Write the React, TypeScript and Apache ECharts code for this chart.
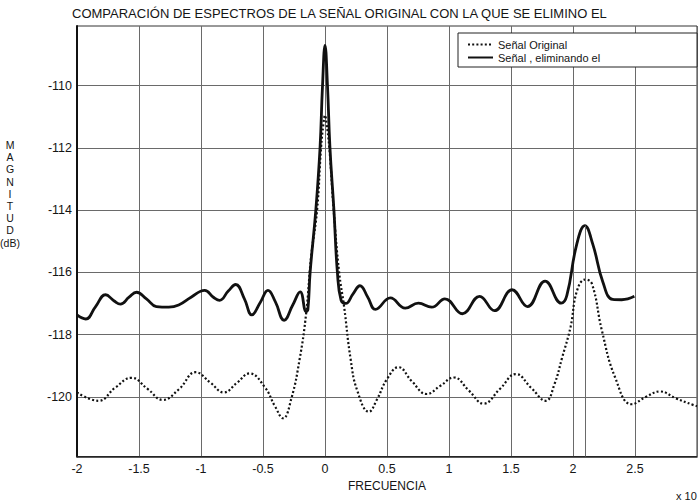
import React, { useEffect, useRef } from "react";
import * as echarts from "echarts";

// Spectrum of the original signal (dotted trace)
const originalFreq = [
  -2.0, -1.827, -1.69, -1.561, -1.43, -1.309, -1.176, -1.043, -0.923, -0.816,
  -0.71, -0.609, -0.484, -0.404, -0.338, -0.271, -0.205, -0.152, -0.112, -0.064,
  -0.032, -0.012, 0.0, 0.012, 0.035, 0.07, 0.114, 0.154, 0.207, 0.26,
  0.354, 0.42, 0.5, 0.593, 0.7, 0.82, 0.93, 1.039, 1.16, 1.279,
  1.41, 1.54, 1.66, 1.78, 1.85, 1.913, 1.98, 2.033, 2.1, 2.153,
  2.233, 2.34, 2.473, 2.59, 2.7, 2.83, 2.967, 3.0,
];
const originalMag = [
  -119.86, -120.13, -119.7, -119.39, -119.75, -120.1, -119.75, -119.21, -119.55, -119.86,
  -119.55, -119.25, -119.7, -120.3, -120.69, -120.05, -118.8, -117.32, -115.5, -114.0,
  -112.0, -111.2, -110.95, -111.2, -112.0, -114.0, -116.0, -117.1, -118.8, -119.8,
  -120.48, -120.08, -119.43, -119.05, -119.5, -119.91, -119.65, -119.38, -119.8, -120.22,
  -119.75, -119.27, -119.7, -120.13, -119.6, -118.73, -117.76, -116.58, -116.23, -116.37,
  -117.87, -119.38, -120.24, -120.0, -119.83, -120.05, -120.26, -120.3,
];

// Spectrum after removing the component (solid trace)
const filteredFreq = [
  -2.0, -1.93, -1.85, -1.77, -1.7, -1.65, -1.58, -1.52, -1.44, -1.36,
  -1.26, -1.18, -1.08, -0.97, -0.9, -0.85, -0.78, -0.72, -0.65, -0.59,
  -0.52, -0.46, -0.4, -0.33, -0.26, -0.2, -0.152, -0.138, -0.12, -0.074,
  -0.04, -0.02, 0.0, 0.02, 0.04, 0.072, 0.1, 0.13, 0.168, 0.225,
  0.282, 0.345, 0.407, 0.527, 0.647, 0.753, 0.86, 0.967, 1.108, 1.247,
  1.367, 1.508, 1.633, 1.775, 1.905, 1.95, 2.03, 2.095, 2.16, 2.24, 2.32, 2.393, 2.495,
];
const filteredMag = [
  -117.37, -117.5, -117.1, -116.72, -116.92, -117.02, -116.8, -116.64, -116.85, -117.1,
  -117.12, -117.05, -116.8, -116.58, -116.8, -116.9, -116.6, -116.39, -116.85, -117.37,
  -116.95, -116.58, -116.95, -117.54, -117.05, -116.63, -117.26, -117.2, -116.0, -114.0,
  -112.0, -110.0, -108.7, -110.0, -112.0, -114.0, -116.0, -116.9, -117.0, -116.7,
  -116.43, -116.8, -117.19, -116.82, -117.15, -116.99, -117.12, -116.85, -117.33, -116.77,
  -117.23, -116.56, -117.1, -116.28, -116.99, -116.75, -115.1, -114.5, -115.1, -116.3, -116.87, -116.88, -116.77,
];

const yTicks = [-120, -118, -116, -114, -112, -110];
const xTicks = [-2, -1.5, -1, -0.5, 0, 0.5, 1, 1.5, 2, 2.5, 3];
const markerFreq = 2.1;

const TITLE = "COMPARACIÓN DE ESPECTROS DE LA SEÑAL ORIGINAL CON LA QUE SE ELIMINO EL";
const LEGEND_ORIGINAL = "Señal Original";
const LEGEND_FILTERED = "Señal , eliminando el";
const Y_NAME = ["M", "A", "G", "N", "I", "T", "U", "D", "(dB)"];

const SANS = "'Liberation Sans', Arial, sans-serif";

export default function App() {
  const ref = useRef<HTMLDivElement>(null);

  useEffect(() => {
    if (!ref.current) return;
    const chart = echarts.init(ref.current, undefined, { renderer: "svg" });

    const yMin = -121.92;
    const yMax = -108.08;
    const xMin = xTicks[0];
    const xMax = xTicks[xTicks.length - 1];

    const original = originalFreq.map((f, i) => [f, originalMag[i]]);
    const filtered = filteredFreq.map((f, i) => [f, filteredMag[i]]);
    const markerPeak = Math.max(
      ...filteredFreq.map((f, i) => (f > 1.5 ? filteredMag[i] : -Infinity))
    );

    // stacked vertical axis name, one letter per line
    const yNameTexts = Y_NAME.map((t, i) => ({
      type: "text",
      x: 10,
      y: 145 + i * 12.2,
      style: {
        text: t,
        fontFamily: SANS,
        fontSize: 10.5,
        textAlign: "center",
        textVerticalAlign: "middle",
        fill: "#151515",
      },
    }));

    const option: any = {
      animation: false,
      backgroundColor: "#ffffff",
      title: {
        text: TITLE,
        left: 72,
        top: 7,
        padding: 0,
        textStyle: {
          fontFamily: SANS,
          fontSize: 13,
          fontWeight: "normal",
          color: "#151515",
        },
      },
      grid: {
        left: 77,
        right: -3,
        top: 26,
        bottom: 45.5,
        show: true,
        borderColor: "#333",
        borderWidth: 1,
        backgroundColor: "transparent",
      },
      legend: {
        orient: "vertical",
        left: 467,
        top: 39,
        padding: 0,
        itemWidth: 25,
        itemHeight: 10,
        itemGap: 2,
        z: 10,
        selectedMode: false,
        textStyle: { fontFamily: SANS, fontSize: 11, color: "#151515" },
        itemStyle: { opacity: 0 },
        data: [LEGEND_ORIGINAL, LEGEND_FILTERED],
      },
      xAxis: {
        type: "value",
        min: xMin,
        max: xMax,
        interval: 0.5,
        name: "FRECUENCIA",
        nameLocation: "middle",
        nameGap: 23,
        nameTextStyle: { fontFamily: SANS, fontSize: 12, color: "#151515" },
        axisLine: { show: true, onZero: false, lineStyle: { color: "#222", width: 1.5 } },
        axisTick: { show: false },
        splitLine: { show: true, lineStyle: { color: "#6a6a6a", width: 1 } },
        axisLabel: {
          margin: 6,
          fontFamily: SANS,
          fontSize: 12.5,
          color: "#151515",
          formatter: (v: number) => (v === xMax ? "" : String(v)),
        },
      },
      yAxis: {
        type: "value",
        min: yMin,
        max: yMax,
        axisLine: { show: true, onZero: false, lineStyle: { color: "#111", width: 2 } },
        axisTick: { show: false, customValues: yTicks },
        splitLine: { show: true, lineStyle: { color: "#6a6a6a", width: 1 } },
        axisLabel: {
          customValues: yTicks,
          margin: 5,
          fontFamily: SANS,
          fontSize: 12.5,
          color: "#151515",
          formatter: (v: number) => String(v),
        },
      },
      graphic: [
        {
          type: "rect",
          z: 3,
          shape: { x: 458, y: 33, width: 239, height: 34 },
          style: { fill: "#ffffff", stroke: "#222", lineWidth: 1 },
        },
        ...yNameTexts,
        {
          type: "text",
          x: 676,
          y: 490,
          style: { text: "x 10", fontFamily: SANS, fontSize: 11, fill: "#151515" },
        },
      ],
      series: [
        {
          name: LEGEND_ORIGINAL,
          type: "line",
          data: original,
          smooth: 0.45,
          symbol: "none",
          z: 3,
          lineStyle: { color: "#111", width: 2.2, type: [2, 2.2], cap: "butt" },
        },
        {
          name: LEGEND_FILTERED,
          type: "line",
          data: filtered,
          smooth: 0.45,
          symbol: "none",
          z: 4,
          lineStyle: { color: "#111", width: 2.8 },
          markLine: {
            silent: true,
            symbol: "none",
            label: { show: false },
            lineStyle: { color: "#6a6a6a", width: 1, type: "solid" },
            data: [[{ coord: [markerFreq, yMin] }, { coord: [markerFreq, markerPeak] }]],
          },
        },
      ],
    };

    chart.setOption(option);
    return () => chart.dispose();
  }, []);

  return (
    <div
      ref={ref}
      style={{ position: "absolute", left: 0, top: 0, width: 700, height: 502 }}
    />
  );
}
